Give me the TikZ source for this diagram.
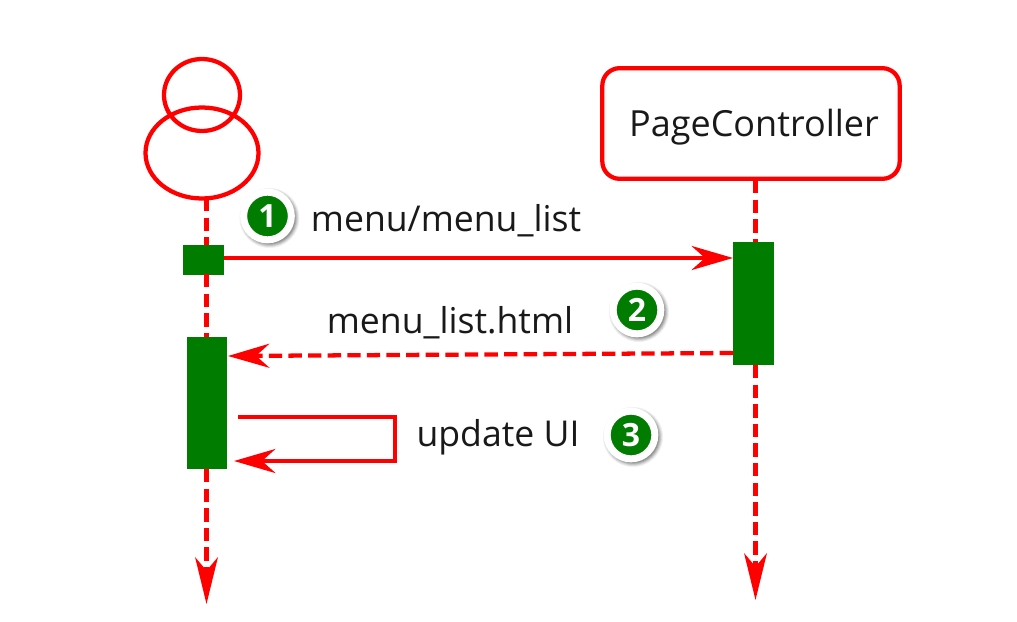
\documentclass[tikz,border=0pt]{standalone}
\usepackage{fontspec}
\setmainfont{Open Sans}
\usetikzlibrary{arrows.meta,shapes.geometric}
\definecolor{actgreen}{RGB}{0,125,0}
\definecolor{linered}{RGB}{255,0,0}
\tikzset{
  lineart/.style={draw=linered,line width=3.2pt},
  msg/.style={lineart,-{Stealth[length=31pt,width=18pt,inset=10pt]}},
  dashmsg/.style={msg,dash pattern=on 10pt off 4.7pt},
  lifeline/.style={lineart,dash pattern=on 10pt off 4.7pt},
  lifearrow/.style={lifeline,-{Stealth[length=35pt,width=17pt,inset=10pt]}},
  activation/.style={fill=actgreen,draw=none,inner sep=0pt,minimum width=#1,anchor=north west},
  label/.style={font=\fontsize{26.7pt}{30pt}\selectfont,text=black!90,inner sep=0pt},
  badge/.style={circle,fill=actgreen,draw=white,line width=3.5pt,minimum size=34pt,inner sep=0pt,text=white,font=\fontsize{24pt}{26pt}\selectfont\bfseries},
  actorpart/.style={ellipse,lineart,inner sep=0pt},
}
\newcommand{\badgeshadow}[2]{%
  \foreach \r/\o in {30/.06,29/.08,28/.10,27/.12,26/.14}{\fill[black,opacity=\o] (#1+2,#2+2) circle[radius=\r*.75pt];}
  \fill[white] (#1,#2) circle[radius=20.5pt];
}
\begin{document}
\begin{tikzpicture}[x=.75pt,y=-.75pt]
\useasboundingbox (0,0) rectangle (1017,621);
% actor
\node[actorpart,minimum width=57pt,minimum height=54pt] (head) at (202,95) {};
\node[actorpart,minimum width=84.75pt,minimum height=68.25pt] (body) at (202,153) {};
\coordinate (actorbottom) at (206.5,198);
% page controller
\node[lineart,rounded corners=13pt,minimum width=223pt,minimum height=83pt,inner sep=0pt,fill=white] (pc) at (751,123.5) {};
\node[label,font=\fontsize{27pt}{30pt}\selectfont] (pctext) at (754,127) {PageController};
% activations
\node[activation=30.5pt,minimum height=22pt] (a1) at (183,245) {};
\node[activation=30pt,minimum height=99pt] (a2) at (187,337) {};
\node[activation=30.5pt,minimum height=92pt] (b1) at (733,242) {};
% lifelines
\coordinate (l1) at (206.5,245);
\coordinate (l2) at (206.5,274);
\coordinate (l3) at (206.5,337);
\coordinate (l4) at (206.5,469);
\coordinate (l5) at (206.5,604);
\coordinate (r1) at (755.5,180);
\coordinate (r2) at (755.5,242);
\coordinate (r3) at (755.5,365);
\coordinate (r4) at (755.5,600);
\draw[lifeline] (actorbottom) -- (l1);
\draw[lifeline] (l2) -- (l3);
\draw[lifearrow] (l4) -- (l5);
\draw[lifeline] (r1) -- (r2);
\draw[lifearrow] (r3) -- (r4);
% messages
\coordinate (m1s) at (224,258);
\coordinate (m1e) at (733,258);
\coordinate (m2s) at (733,353);
\coordinate (m2e) at (228,356);
\draw[msg] (m1s) -- (m1e);
\draw[dashmsg] (m2s) -- (m2e);
\coordinate (s1) at (238,417);
\coordinate (s2) at (395,417);
\coordinate (s3) at (395,461);
\coordinate (s4) at (234,461);
\draw[msg,line join=miter] (s1) -- (s2) -- (s3) -- (s4);
% labels
\node[label] (t1) at (446,221) {menu/menu\_list};
\node[label] (t2) at (450,323) {menu\_list.html};
\node[label] (t3) at (498,437) {update UI};
% badges
\badgeshadow{267.5}{216}
\node[badge] (n1) at (267.5,216) {1};
\badgeshadow{637}{310}
\node[badge] (n2) at (637,310) {2};
\badgeshadow{631}{435}
\node[badge] (n3) at (631,435) {3};
\end{tikzpicture}
\end{document}
